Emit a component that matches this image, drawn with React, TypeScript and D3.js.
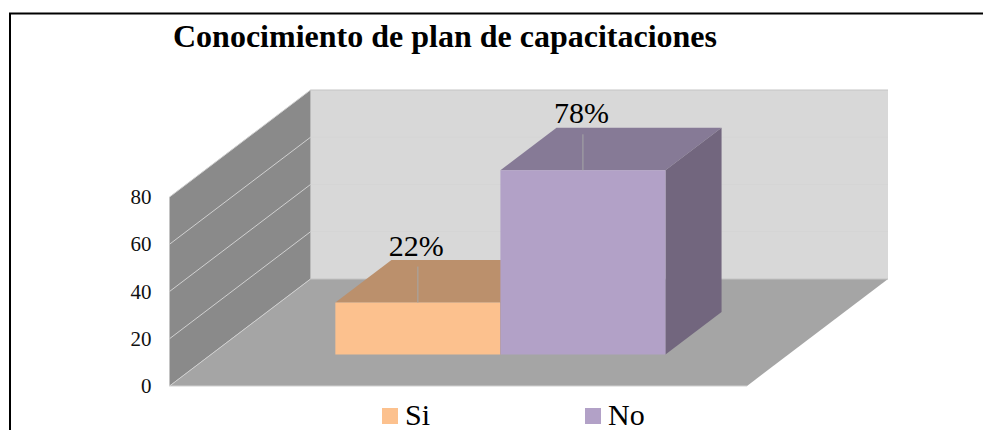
import React from "react";
import * as d3 from "d3";

const title = "Conocimiento de plan de capacitaciones";
const categories = ["Si", "No"];
const values = [22, 78];
const labels = ["22%", "78%"];
const ticks = [0, 20, 40, 60, 80];
const colors = { Si: ["#fcc18e", "#bb906c", "#8f6f52"], No: ["#b2a1c7", "#867a96", "#72667e"] } as Record<string, string[]>;

const W = 983, H = 430;
const x = d3.scaleLinear().domain([0, 1]).range([169.5, 747]);
const y = d3.scaleLinear().domain([0, 80]).range([386, 197]);
const depthX = d3.scaleLinear().domain([0, 1]).range([0, 141]);
const depthY = d3.scaleLinear().domain([0, 1]).range([0, -107]);
const band = d3.scaleBand().domain(categories).range([0.2154, 0.787]).padding(0);

const P = (u: number, v: number, d: number): [number, number] => [x(u) + depthX(d), y(v) + depthY(d)];
const poly = (pts: [number, number][]) => (d3.line()(pts) ?? "") + "Z";

const D0 = 0.294, D1 = 0.692;

export default function App() {
  return (
    <svg width={W} height={H} style={{ position: "absolute", left: 0, top: 0, fontFamily: "'Liberation Serif', serif" }}>
      <rect width={W} height={H} fill="#fff" />
      <path d={`M10 430V13.5H983`} fill="none" stroke="#000" strokeWidth={2} />
      <text x={445} y={46.5} textAnchor="middle" fontSize={32} fontWeight="bold">{title}</text>

      <path d={poly([P(0, 0, 1), P(1, 0, 1), P(1, 80, 1), P(0, 80, 1)])} fill="#d8d8d8" />
      <path d={poly([P(0, 0, 0), P(0, 0, 1), P(0, 80, 1), P(0, 80, 0)])} fill="#8a8a8a" />
      <path d={poly([P(0, 0, 0), P(1, 0, 0), P(1, 0, 1), P(0, 0, 1)])} fill="#a5a5a5" />
      {ticks.map((t) => (
        <g key={t}>
          <path d={d3.line()([P(0, t, 0), P(0, t, 1)]) ?? ""} fill="none" stroke="#d0d0d0" strokeWidth={1} />
          <path d={d3.line()([P(0, t, 1), P(1, t, 1)]) ?? ""} fill="none" stroke={t === 0 || t === 80 ? "#c4c4c4" : "#d5d5d5"} strokeWidth={1} />
          <text x={151.5} y={y(t) + 7} textAnchor="end" fontSize={21} fill="#111">{t}</text>
        </g>
      ))}
      <path d={d3.line()([P(0, 0, 0), P(1, 0, 0)]) ?? ""} stroke="#d0d0d0" strokeWidth={1} />

      {categories.map((c, i) => {
        const u0 = band(c)!, u1 = u0 + band.bandwidth(), v = values[i];
        const [front, top, side] = colors[c];
        const lx = (P(u0, v, D0)[0] + P(u1, v, D0)[0]) / 2;
        return (
          <g key={c}>
            <path d={poly([P(u0, v, D0), P(u1, v, D0), P(u1, v, D1), P(u0, v, D1)])} fill={top} />
            <path d={poly([P(u1, 0, D0), P(u1, 0, D1), P(u1, v, D1), P(u1, v, D0)])} fill={side} />
            <path d={poly([P(u0, 0, D0), P(u1, 0, D0), P(u1, v, D0), P(u0, v, D0)])} fill={front} />
            <line x1={lx} x2={lx} y1={P(u0, v, D0)[1]} y2={P(u0, v, D0)[1] - 36} stroke="#a6a6a6" strokeWidth={1} />
            <text x={lx - 1.5} y={P(u0, v, D0)[1] - 47} textAnchor="middle" fontSize={30}>{labels[i]}</text>
          </g>
        );
      })}

      {categories.map((c, i) => {
        const lx = [382, 585][i];
        return (
          <g key={c}>
            <rect x={lx} y={408} width={16} height={16} fill={colors[c][0]} />
            <text x={lx + 23} y={425} fontSize={30}>{c}</text>
          </g>
        );
      })}
    </svg>
  );
}
